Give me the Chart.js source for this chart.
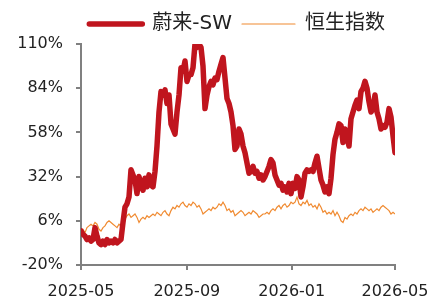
<!DOCTYPE html>
<html>
<head>
<meta charset="utf-8">
<script src="https://cdn.jsdelivr.net/npm/chart.js@4/dist/chart.umd.min.js"></script>
<style>
  html, body { margin: 0; padding: 0; background: #ffffff; }
  #wrap { width: 441px; height: 300px; }
</style>
</head>
<body>
<div id="wrap"><canvas id="c" width="441" height="300"></canvas></div>
<script>
// Series names
const seriesNames = ['蔚来-SW', '恒生指数'];

// Cumulative return (%) since 2025-05-01, sampled roughly every 2.3 calendar days
const nioValues = [
  0, -2, -3, -5, -4, -6, -5, 2, -3, -7, -8, -6, -8, -5, -7, -6, -7, -5, -7, -6,
  -5, 5, 14, 16, 20, 36, 33, 30, 22, 32, 27, 24, 31, 26, 33, 27, 26, 35, 50, 70,
  82, 80, 83, 75, 80, 63, 60, 57, 70, 80, 96, 94, 100, 88, 92, 92, 96, 110, 108, 110,
  108, 97, 72, 80, 85, 88, 86, 90, 89, 94, 98, 102, 90, 78, 75, 70, 62, 48, 50, 60,
  57, 50, 46, 40, 34, 35, 38, 34, 35, 31, 33, 30, 32, 35, 38, 42, 40, 33, 30, 27,
  28, 24, 26, 23, 28, 22, 28, 25, 32, 30, 20, 26, 34, 36, 35, 36, 35, 40, 44, 37,
  30, 27, 23, 26, 22, 31, 45, 54, 58, 63, 62, 52, 60, 55, 50, 66, 70, 74, 77, 72,
  82, 84, 88, 84, 76, 70, 72, 80, 70, 66, 60, 62, 61, 64, 72, 67, 56, 46
];
const hsiValues = [
  0, 1, -1, 2, 3, 4, 3, 5, 4, 1, 0, 2, 3, 5, 6, 5, 4, 3, 2, 4,
  3, 5, 7, 9, 10, 8, 9, 10, 8, 5, 7, 8, 7, 9, 8, 9, 10, 9, 11, 10,
  9, 11, 12, 10, 9, 12, 14, 13, 15, 14, 16, 17, 15, 14, 16, 15, 17, 16, 14, 15,
  13, 10, 11, 12, 13, 12, 14, 13, 14, 16, 15, 17, 15, 12, 13, 11, 12, 9, 10, 11,
  12, 11, 9, 10, 11, 10, 12, 11, 10, 8, 9, 10, 10, 11, 10, 12, 13, 12, 14, 15,
  13, 15, 16, 14, 15, 17, 16, 17, 20, 16, 15, 17, 16, 18, 15, 16, 14, 15, 13, 16,
  14, 11, 12, 10, 11, 10, 12, 9, 11, 9, 6, 5, 8, 7, 9, 10, 9, 11, 10, 12,
  13, 12, 14, 13, 12, 13, 11, 12, 13, 12, 14, 15, 14, 13, 12, 10, 11, 10
];

// X axis: calendar days since 2025-05-01
const totalDays = 365;
const tickDays = [0, 123, 245, 365];
const tickLabels = ['2025-05', '2025-09', '2026-01', '2026-05'];
const yTickMin = -20, yTickMax = 110, yTickStep = 26;

const sampleStep = totalDays / (nioValues.length - 1);
const toPoints = arr => arr.map((v, i) => ({ x: i * sampleStep, y: v }));

const AXIS = '#808080';
const FONT = '"DejaVu Sans", "Noto Sans CJK SC", sans-serif';

new Chart(document.getElementById('c'), {
  type: 'line',
  data: {
    datasets: [
      {
        label: seriesNames[0],
        data: toPoints(nioValues),
        borderColor: '#C0151E',
        backgroundColor: '#C0151E',
        borderWidth: 5.5,
        borderCapStyle: 'round',
        borderJoinStyle: 'round',
        pointRadius: 0,
        tension: 0
      },
      {
        label: seriesNames[1],
        data: toPoints(hsiValues),
        borderColor: '#F08A30',
        backgroundColor: '#F08A30',
        borderWidth: 1.2,
        pointRadius: 0,
        tension: 0
      }
    ]
  },
  options: {
    responsive: false,
    animation: false,
    devicePixelRatio: 1,
    layout: { autoPadding: false, padding: { left: 18, right: 46, top: 4, bottom: 2 } },
    plugins: {
      tooltip: { enabled: false },
      legend: {
        position: 'top',
        align: 'end',
        fullSize: true,
        labels: {
          usePointStyle: true,
          pointStyle: 'line',
          pointStyleWidth: 53,
          padding: 10,
          color: '#222',
          font: { family: FONT, size: 20 },
          generateLabels: chart => chart.data.datasets.map((ds, i) => ({
            text: ds.label,
            strokeStyle: ds.borderColor,
            fillStyle: ds.borderColor,
            lineWidth: ds.borderWidth,
            lineCap: 'round',
            pointStyle: 'line',
            fontColor: '#222',
            hidden: false,
            datasetIndex: i
          }))
        }
      }
    },
    scales: {
      x: {
        type: 'linear',
        min: 0,
        max: totalDays,
        afterBuildTicks: s => { s.ticks = tickDays.map(v => ({ value: v })); },
        afterFit: s => { s.height = 33; },
        ticks: {
          autoSkip: false,
          maxRotation: 0,
          padding: 12,
          color: '#222',
          font: { family: FONT, size: 16 },
          callback: v => tickLabels[tickDays.indexOf(v)]
        },
        grid: { display: true, drawOnChartArea: false, drawTicks: true, tickLength: 5, color: AXIS, lineWidth: 2 },
        border: { display: true, color: AXIS, width: 2 }
      },
      y: {
        min: yTickMin,
        max: yTickMax,
        afterFit: s => { s.width = 63; },
        ticks: {
          stepSize: yTickStep,
          padding: 13,
          color: '#222',
          font: { family: FONT, size: 16 },
          callback: v => v + '%'
        },
        grid: { display: true, drawOnChartArea: false, drawTicks: true, tickLength: 5, color: AXIS, lineWidth: 2 },
        border: { display: true, color: AXIS, width: 2 }
      }
    }
  }
});
</script>
</body>
</html>
